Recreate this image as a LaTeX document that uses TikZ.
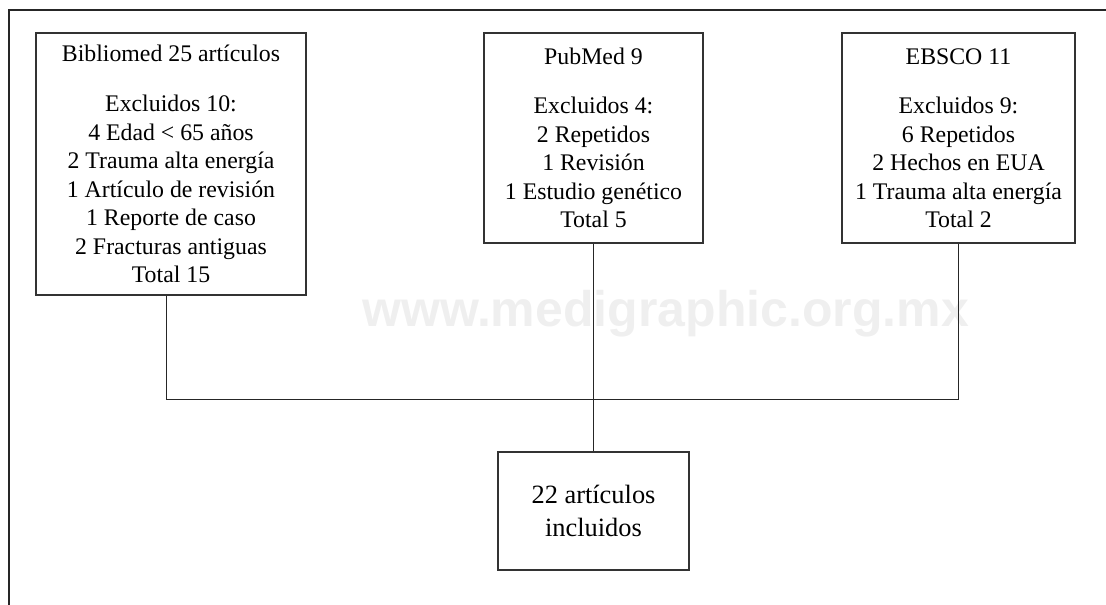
\documentclass[tikz,border=0pt]{standalone}
\usepackage{fontspec}
\setmainfont{Liberation Serif}
\newfontfamily\wmfont{Liberation Sans}
\definecolor{boxline}{HTML}{333333}
\definecolor{wmgray}{HTML}{EFEFEF}
\begin{document}
\begin{tikzpicture}[x=1pt,y=-1pt,
  box/.style={draw=boxline,line width=1.2pt,rectangle,inner sep=0pt,align=center,
    font=\fontsize{23.8}{28.5}\selectfont},
  link/.style={draw=black!85,line width=1pt}]
\useasboundingbox (0,0) rectangle (1106,605);
% watermark
\node[anchor=base,font=\wmfont\bfseries\fontsize{50}{50}\selectfont,text=wmgray,inner sep=0pt] (wm) at (665.5,326) {www.medigraphic.org.mx};
% outer frame (top and left edges)
\coordinate (fa) at (9,605);
\coordinate (fb) at (9,10);
\coordinate (fc) at (1106,10);
\draw[line width=2.2pt,black!85] (fa) -- (fb) -- (fc);
% boxes
\node[box,minimum width=270pt,minimum height=262pt] (bib) at (171,164)
  {Bibliomed 25 artículos\\[22pt]Excluidos 10:\\4 Edad < 65 años\\2 Trauma alta energía\\1 Artículo de revisión\\1 Reporte de caso\\2 Fracturas antiguas\\Total 15};
\node[box,minimum width=219pt,minimum height=210pt] (pub) at (593.5,138)
  {PubMed 9\\[21pt]Excluidos 4:\\2 Repetidos\\1 Revisión\\1 Estudio genético\\Total 5};
\node[box,minimum width=233pt,minimum height=210pt] (ebs) at (958.5,138)
  {EBSCO 11\\[21pt]Excluidos 9:\\6 Repetidos\\2 Hechos en EUA\\1 Trauma alta energía\\Total 2};
\node[box,minimum width=191pt,minimum height=118pt,font=\fontsize{26.4}{33}\selectfont] (fin) at (593.5,511)
  {22 artículos\\incluidos};
% connectors
\coordinate (j) at (593.5,399);
\draw[link] ([xshift=-5pt]bib.south) |- (j);
\draw[link] (ebs.south) |- (j);
\draw[link] (pub.south) -- (j);
\draw[link] (j) -- (fin.north);
\end{tikzpicture}
\end{document}
